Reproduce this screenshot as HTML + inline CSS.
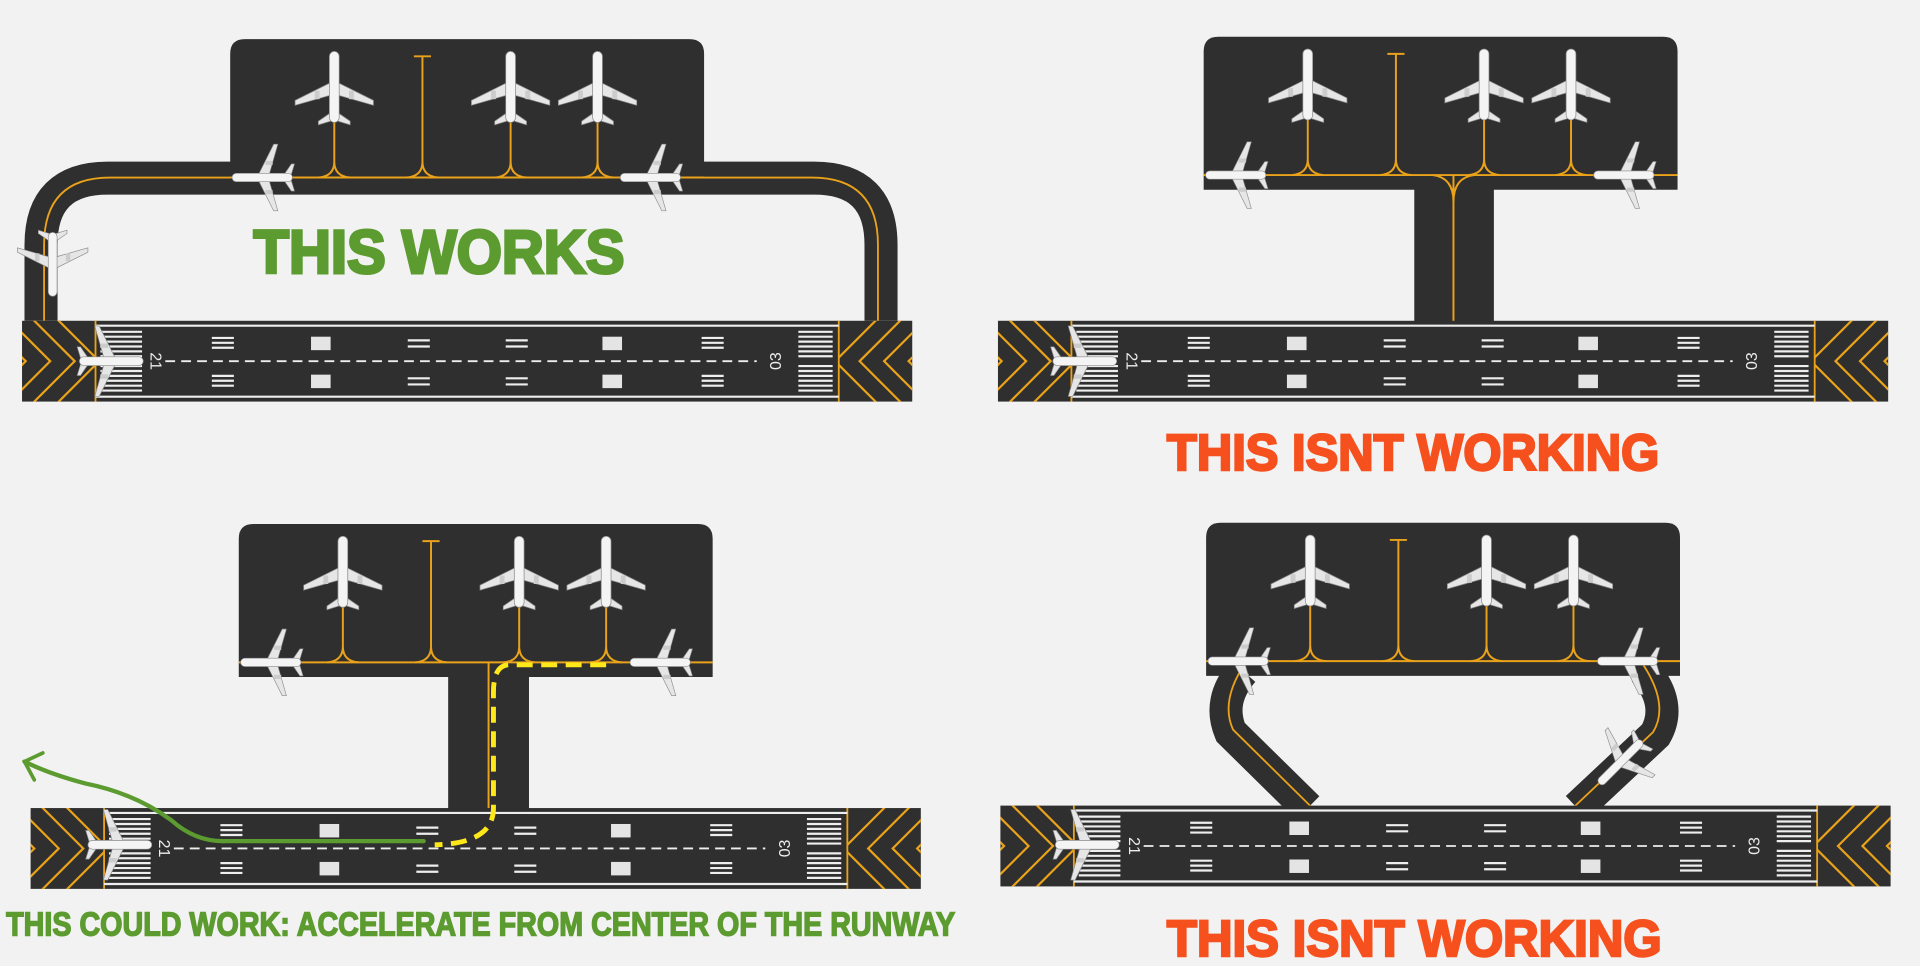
<!DOCTYPE html>
<html><head><meta charset="utf-8"><style>
html,body{margin:0;padding:0;background:#f2f2f2;}
svg{display:block;}
</style></head><body>
<svg width="1920" height="966" viewBox="0 0 1568 789" preserveAspectRatio="none" xmlns="http://www.w3.org/2000/svg">
<defs>
<g id="plane">
  <polygon points="0,-6 32,10 32,14 4,6 -4,6 -32,14 -32,10" fill="#e6e6e6" stroke="#8a8a8a" stroke-width="0.6"/>
  <polygon points="0,18 13,27 13,30 0,26 -13,30 -13,27" fill="#e6e6e6" stroke="#8a8a8a" stroke-width="0.6"/>
  <rect x="-4" y="-30" width="8" height="58" rx="4" fill="#f4f4f4" stroke="#8a8a8a" stroke-width="0.6"/>
  <rect x="-16" y="2" width="4" height="7" fill="#ccc"/><rect x="12" y="2" width="4" height="7" fill="#ccc"/>
</g>
<g id="runway">
  <rect x="0" y="0" width="727" height="66" fill="#2f2f2f"/>
  <clipPath id="lc"><rect x="0" y="0" width="60" height="66"/></clipPath>
  <clipPath id="rc"><rect x="667" y="0" width="60" height="66"/></clipPath>
  <g clip-path="url(#lc)" stroke="#e9a21a" stroke-width="1.8" fill="none">
    <polyline points="-40,-10 3,33 -40,76"/><polyline points="-20,-10 23,33 -20,76"/><polyline points="0,-10 43,33 0,76"/><polyline points="20,-10 63,33 20,76"/>
  </g>
  <g clip-path="url(#rc)" stroke="#e9a21a" stroke-width="1.8" fill="none">
    <polyline points="767,-10 724,33 767,76"/><polyline points="747,-10 704,33 747,76"/><polyline points="727,-10 684,33 727,76"/><polyline points="707,-10 664,33 707,76"/>
  </g>
  <line x1="60" y1="0" x2="60" y2="66" stroke="#e9a21a" stroke-width="1.5"/>
  <line x1="667" y1="0" x2="667" y2="66" stroke="#e9a21a" stroke-width="1.5"/>
  <line x1="60" y1="4" x2="667" y2="4" stroke="#eee" stroke-width="1.8"/>
  <line x1="60" y1="62" x2="667" y2="62" stroke="#eee" stroke-width="1.8"/>
  <g stroke="#eee" stroke-width="1.8">
    <path d="M64 9H98M64 13H98M64 17H98M64 21H98M64 25H98M64 29H98M64 37H98M64 41H98M64 45H98M64 49H98M64 53H98M64 57H98"/>
    <path d="M634 9H662M634 13H662M634 17H662M634 21H662M634 25H662M634 29H662M634 37H662M634 41H662M634 45H662M634 49H662M634 53H662M634 57H662"/>
    <path d="M155 14H173M155 18H173M155 22H173M155 45H173M155 49H173M155 53H173"/>
    <path d="M555 14H573M555 18H573M555 22H573M555 45H573M555 49H573M555 53H573"/>
    <path d="M315 16H333M315 21H333M315 47H333M315 52H333"/>
    <path d="M395 16H413M395 21H413M395 47H413M395 52H413"/>
  </g>
  <rect x="236" y="13" width="16" height="11" fill="#e4e4e4"/><rect x="236" y="44" width="16" height="11" fill="#e4e4e4"/>
  <rect x="474" y="13" width="16" height="11" fill="#e4e4e4"/><rect x="474" y="44" width="16" height="11" fill="#e4e4e4"/>
  <line x1="117" y1="33" x2="600" y2="33" stroke="#eee" stroke-width="1.5" stroke-dasharray="8 5"/>
  <text x="0" y="0" transform="translate(105,33) rotate(90)" font-family="Liberation Sans, sans-serif" font-size="13" fill="#eee" text-anchor="middle">21</text>
  <text x="0" y="0" transform="translate(620,33) rotate(-90)" font-family="Liberation Sans, sans-serif" font-size="13" fill="#eee" text-anchor="middle">03</text>
</g>
<g id="apron">
  <g stroke="#e9a21a" stroke-width="1.6" fill="none">
    <line x1="0" y1="113" x2="387" y2="113"/>
    <path d="M85 50V100Q85 112 72 113M85 100Q85 112 98 113"/>
    <path d="M157 14V100Q157 112 144 113M157 100Q157 112 170 113M150 14H164"/>
    <path d="M229 50V100Q229 112 216 113M229 100Q229 112 242 113"/>
    <path d="M300 50V100Q300 112 287 113M300 100Q300 112 313 113"/>
  </g>
  <use href="#plane" transform="translate(85,40)"/>
  <use href="#plane" transform="translate(229,40)"/>
  <use href="#plane" transform="translate(300,40)"/>
</g>
</defs>

<!-- PANEL 1 -->
<path d="M188 135V44Q188 32 200 32H563Q575 32 575 44V135Z" fill="#2f2f2f"/>
<path d="M33.5 262V200Q33.5 145.5 88 145.5H665Q719.5 145.5 719.5 200V262" fill="none" stroke="#2f2f2f" stroke-width="27"/>
<path d="M36 262V200Q36 145 90 145H663Q717 145 717 200V262" fill="none" stroke="#e9a21a" stroke-width="1.5"/>
<g transform="translate(188,32)"><use href="#apron"/></g>
<use href="#runway" transform="translate(18,262)"/>
<use href="#plane" transform="translate(215,145) rotate(-90) scale(0.85)"/>
<use href="#plane" transform="translate(532,145) rotate(-90) scale(0.85)"/>
<use href="#plane" transform="translate(43,215) rotate(180) scale(0.9)"/>
<use href="#plane" transform="translate(90,295) rotate(90) scale(0.9)"/>
<text x="207" y="223" font-family="Liberation Sans, sans-serif" font-weight="bold" font-size="50" fill="#5c9b2f" stroke="#5c9b2f" stroke-width="2.5" textLength="303" lengthAdjust="spacingAndGlyphs">THIS WORKS</text>

<!-- PANEL 2 -->
<path d="M983 155V42Q983 30 995 30H1358Q1370 30 1370 42V155Z" fill="#2f2f2f"/>
<rect x="1155" y="150" width="65" height="115" fill="#2f2f2f"/>
<g transform="translate(983,30)"><use href="#apron"/></g>
<path d="M1187 143V270Q1187 288 1165 288M1187 270Q1187 288 1207 288" fill="none" stroke="#e9a21a" stroke-width="1.6"/>
<path d="M1170 143Q1187 145 1187 165M1204 143Q1187 145 1187 165" fill="none" stroke="#e9a21a" stroke-width="1.6"/>
<use href="#runway" transform="translate(815,262)"/>
<use href="#plane" transform="translate(1010,143) rotate(-90) scale(0.85)"/>
<use href="#plane" transform="translate(1327,143) rotate(-90) scale(0.85)"/>
<use href="#plane" transform="translate(885,295) rotate(90) scale(0.9)"/>
<text x="953" y="384" font-family="Liberation Sans, sans-serif" font-weight="bold" font-size="42" fill="#f5501d" stroke="#f5501d" stroke-width="2" textLength="402" lengthAdjust="spacingAndGlyphs">THIS ISNT WORKING</text>

<!-- PANEL 3 -->
<path d="M195 553V440Q195 428 207 428H570Q582 428 582 440V553Z" fill="#2f2f2f"/>
<rect x="366" y="548" width="66" height="115" fill="#2f2f2f"/>
<g transform="translate(195,428)"><use href="#apron"/></g>
<path d="M399 541V670Q399 686 385 686M399 670Q399 686 414 686" fill="none" stroke="#e9a21a" stroke-width="1.6"/>
<use href="#runway" transform="translate(25,660)"/>
<use href="#plane" transform="translate(222,541) rotate(-90) scale(0.85)"/>
<use href="#plane" transform="translate(540,541) rotate(-90) scale(0.85)"/>
<use href="#plane" transform="translate(97,690) rotate(90) scale(0.9)"/>
<path d="M495 543H415Q403 544 403 565V660Q403 689 355 690" fill="none" stroke="#ffe81a" stroke-width="4" stroke-dasharray="13 7"/>
<path d="M346 687H185Q160 688 140 670Q110 648 70 640Q40 632 20 622" fill="none" stroke="#5c9b2f" stroke-width="3.5" stroke-linecap="round"/>
<path d="M35 615L20 622L28 637" fill="none" stroke="#5c9b2f" stroke-width="3" stroke-linecap="round"/>
<text x="5" y="764" font-family="Liberation Sans, sans-serif" font-weight="bold" font-size="27" fill="#5c9b2f" stroke="#5c9b2f" stroke-width="1.2" textLength="775" lengthAdjust="spacingAndGlyphs">THIS COULD WORK: ACCELERATE FROM CENTER OF THE RUNWAY</text>

<!-- PANEL 4 -->
<path d="M985 552V439Q985 427 997 427H1360Q1372 427 1372 439V552Z" fill="#2f2f2f"/>
<path d="M1015 548Q994 572 1005 598L1068 660" fill="none" stroke="#2f2f2f" stroke-width="27"/>
<path d="M1343 548Q1366 575 1352 600L1288 660" fill="none" stroke="#2f2f2f" stroke-width="27"/>
<path d="M1018 540Q996 572 1007 596L1080 668" fill="none" stroke="#e9a21a" stroke-width="1.5"/>
<path d="M1340 540Q1364 575 1350 598L1276 668" fill="none" stroke="#e9a21a" stroke-width="1.5"/>
<g transform="translate(985,427)"><use href="#apron"/></g>
<use href="#runway" transform="translate(817,658)"/>
<use href="#plane" transform="translate(1012,540) rotate(-90) scale(0.85)"/>
<use href="#plane" transform="translate(1330,540) rotate(-90) scale(0.85)"/>
<use href="#plane" transform="translate(1324,622) rotate(-135) scale(0.85)"/>
<use href="#plane" transform="translate(887,690) rotate(90) scale(0.9)"/>
<text x="953" y="781" font-family="Liberation Sans, sans-serif" font-weight="bold" font-size="42" fill="#f5501d" stroke="#f5501d" stroke-width="2" textLength="404" lengthAdjust="spacingAndGlyphs">THIS ISNT WORKING</text>
</svg>
</body></html>
